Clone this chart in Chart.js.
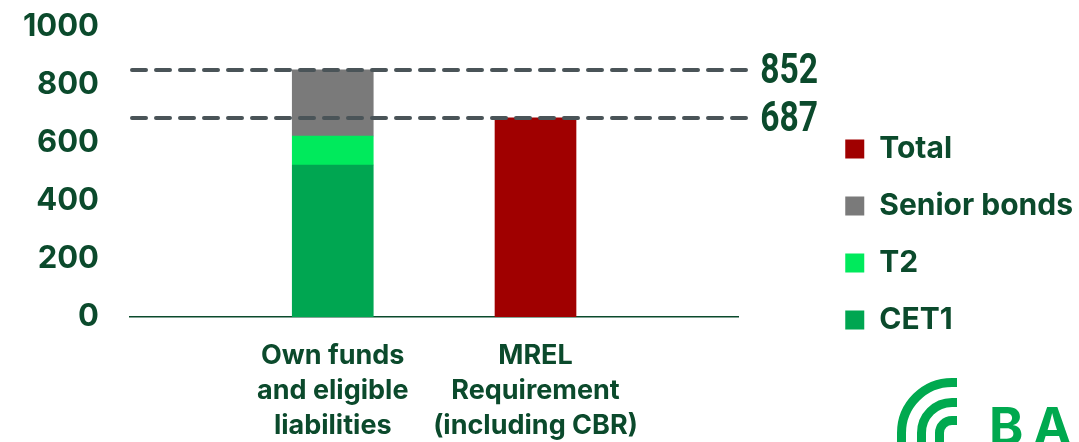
<!DOCTYPE html>
<html><head><meta charset="utf-8">
<script src="https://cdn.jsdelivr.net/npm/chart.js@4.4.0/dist/chart.umd.min.js"></script>
<style>html,body{margin:0;padding:0;background:#fff;overflow:hidden}#wrap{width:1079px;height:442px;position:relative}</style>
</head><body><div id="wrap"><canvas id="c" width="1079" height="442"></canvas></div>
<script>
// ---- data ----
const categories = ['', ['Own funds', 'and eligible', 'liabilities'], ['MREL', 'Requirement', '(including CBR)'], ''];
const cet1 = [null, 524, null, null];
const t2 = [null, 100, null, null];
const seniorBonds = [null, 228, null, null];
const total = [null, null, 687, null];
const referenceLevels = [852, 687];
const yTickValues = [0, 200, 400, 600, 800, 1000];

// ---- styles ----
const TXT = '#0b4a2c';
const FONT = 'Inter, "Noto Sans", sans-serif';

const refLines = {
  id: 'refLines',
  afterDatasetsDraw(chart) {
    const {ctx, chartArea, scales} = chart;
    const y = scales.y;
    ctx.save();
    referenceLevels.forEach(v => {
      const py = Math.round(y.getPixelForValue(v));
      ctx.beginPath();
      ctx.setLineDash([14, 10]);
      ctx.lineCap = 'round';
      ctx.lineWidth = 4;
      ctx.strokeStyle = '#4a5458';
      ctx.moveTo(chartArea.left + 2, py);
      ctx.lineTo(chartArea.right + 12, py);
      ctx.stroke();
      ctx.setLineDash([]);
      ctx.save();
      ctx.translate(chartArea.right + 22, py);
      ctx.scale(0.8, 1);
      ctx.font = 'bold 42px Roboto, sans-serif';
      ctx.fillStyle = TXT;
      ctx.textBaseline = 'middle';
      ctx.textAlign = 'left';
      ctx.fillText(String(v), 0, 2);
      ctx.restore();
    });
    ctx.restore();
  }
};

const logo = {
  id: 'logo',
  afterDraw(chart) {
    const ctx = chart.ctx;
    ctx.save();
    ctx.strokeStyle = '#00a94f';
    ctx.fillStyle = '#00a94f';
    ctx.lineWidth = 9;
    ctx.lineCap = 'butt';
    const cx = 952, cy = 433;
    [50.5, 30.5, 12.5].forEach(r => {
      ctx.beginPath();
      ctx.moveTo(cx - r, 460);
      ctx.lineTo(cx - r, cy);
      ctx.arc(cx, cy, r, Math.PI, Math.PI * 1.5);
      ctx.lineTo(957, cy - r);
      ctx.stroke();
    });
    ctx.font = 'bold 52px Inter, sans-serif';
    ctx.textBaseline = 'alphabetic';
    ctx.fillText('B', 989, 445);
    ctx.fillText('A', 1033, 445);
    ctx.restore();
  }
};

new Chart(document.getElementById('c'), {
  type: 'bar',
  data: {
    labels: categories,
    datasets: [
      {label: 'CET1', data: cet1, backgroundColor: '#00a651'},
      {label: 'T2', data: t2, backgroundColor: '#00ea5c'},
      {label: 'Senior bonds', data: seniorBonds, backgroundColor: '#7a7a7a'},
      {label: 'Total', data: total, backgroundColor: '#a00000'}
    ]
  },
  options: {
    responsive: false,
    devicePixelRatio: 1,
    animation: false,
    datasets: {bar: {barThickness: 81, borderWidth: 0}},
    layout: {padding: {top: 27, left: 0, right: -4, bottom: 0}},
    plugins: {
      tooltip: {enabled: false},
      legend: {
        position: 'right',
        reverse: true,
        maxWidth: 400,
        labels: {
          boxWidth: 19, boxHeight: 19, padding: 27,
          color: TXT,
          font: {family: FONT, size: 30, weight: 'bold'}
        }
      }
    },
    scales: {
      x: {
        stacked: true,
        offset: false,
        afterFit(s) { s.height = 125; },
        grid: {display: false, drawTicks: false},
        border: {display: true, color: TXT, width: 1.5},
        ticks: {
          autoSkip: false, maxRotation: 0, padding: 21, color: TXT,
          font: {family: FONT, size: 27, weight: 'bold', lineHeight: 1.3}
        }
      },
      y: {
        stacked: true,
        min: 0, max: 1000,
        afterBuildTicks(s) { s.ticks = yTickValues.map(v => ({value: v})); },
        afterFit(s) { s.width = 130; },
        grid: {display: false, drawTicks: true, tickLength: 31},
        border: {display: false},
        ticks: {padding: 0, color: TXT, font: {family: FONT, size: 31, weight: 'bold'},
                callback: v => String(v)}
      },
      yR: {
        position: 'right',
        display: true,
        min: 0, max: 1000,
        grid: {display: false, drawTicks: false},
        border: {display: false},
        ticks: {display: false},
        afterFit(s) { s.width = 80; }
      }
    }
  },
  plugins: [refLines, logo]
});
</script>
</body></html>
